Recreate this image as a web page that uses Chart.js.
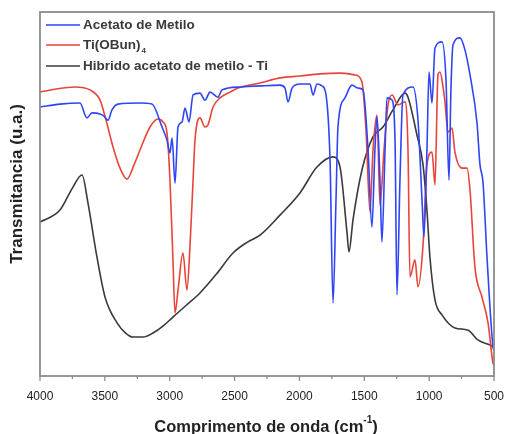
<!DOCTYPE html>
<html>
<head>
<meta charset="utf-8">
<script src="https://cdn.jsdelivr.net/npm/chart.js@4.4.1/dist/chart.umd.min.js"></script>
<style>
  html, body { margin: 0; padding: 0; background: #fff; }
  #wrap { width: 505px; height: 434px; }
</style>
</head>
<body>
<div id="wrap"><canvas id="ftirChart"></canvas></div>
<script>
// ===== datos (número de onda en cm-1, transmitancia u.a.) =====
const acetatoOnda = [4000, 3846, 3692, 3638, 3599, 3537, 3507, 3476, 3445, 3399, 3229, 3137, 3059, 3021, 2998, 2982,
    2959, 2936, 2905, 2882, 2851, 2820, 2767, 2728, 2689, 2628, 2597, 2458, 2304, 2150, 2111, 2088, 2057, 1996,
    1919, 1895, 1865, 1826, 1795, 1764, 1741, 1718, 1703, 1649, 1595, 1549, 1510, 1471, 1441, 1418, 1402, 1379,
    1364, 1340, 1325, 1286, 1263, 1248, 1225, 1202, 1124, 1086, 1055, 1040, 1017, 1001, 978, 955, 901, 870, 847,
    832, 816, 762, 724, 685, 631, 608, 585, 554, 508, 500];
const acetatoT = [73.9, 74.7, 75.0, 70.9, 72.3, 72.0, 71.4, 70.3, 73.1, 74.7, 75.0, 74.7, 68.4, 64.8, 61.3, 65.4,
    53.0, 68.4, 69.8, 73.6, 69.8, 77.2, 77.7, 75.8, 78.0, 76.6, 78.6, 79.4, 79.7, 79.9, 79.1, 75.3, 79.1, 80.2,
    80.2, 77.2, 80.2, 79.7, 77.2, 59.3, 20.1, 48.4, 68.4, 76.4, 79.9, 79.1, 78.6, 62.1, 40.9, 62.1, 71.2, 53.8,
    36.8, 62.1, 76.4, 75.8, 64.8, 22.3, 53.8, 77.2, 79.4, 70.3, 48.4, 38.2, 62.1, 83.5, 75.0, 90.1, 91.8, 81.3, 53.8,
    78.6, 91.0, 92.9, 89.6, 82.7, 69.5, 58.0, 53.3, 32.7, 8.0, 7.1];

const titanioOnda = [4000, 3884, 3730, 3615, 3537, 3491, 3437, 3383, 3329, 3275, 3229, 3152, 3090, 3052, 3021, 2998,
    2975, 2959, 2936, 2898, 2867, 2844, 2820, 2805, 2767, 2728, 2705, 2666, 2612, 2535, 2474, 2304, 2150, 1996,
    1842, 1687, 1572, 1518, 1487, 1456, 1433, 1402, 1379, 1348, 1317, 1286, 1240, 1186, 1163, 1148, 1109, 1086,
    1047, 1017, 978, 955, 932, 916, 893, 878, 855, 824, 801, 747, 708, 685, 647, 593, 546, 508, 500];
const titanioT = [78.0, 78.8, 79.4, 78.6, 75.8, 70.3, 62.9, 57.1, 54.1, 58.0, 62.1, 68.4, 70.6, 69.8, 66.8, 53.8,
    31.9, 17.3, 23.6, 33.8, 23.6, 35.4, 53.8, 64.8, 70.9, 68.4, 69.0, 73.9, 76.4, 78.0, 79.1, 80.5, 81.9, 82.4,
    83.0, 83.2, 82.7, 80.8, 67.6, 45.1, 62.1, 71.7, 47.0, 62.1, 74.5, 77.2, 74.5, 75.3, 62.1, 27.2, 31.9, 24.5,
    36.0, 58.0, 61.5, 52.5, 82.7, 83.5, 79.4, 75.3, 67.0, 68.1, 61.5, 57.1, 57.1, 51.1, 29.9, 21.7, 14.6, 3.6, 3.0];

const hibridoOnda = [4000, 3846, 3746, 3676, 3630, 3561, 3499, 3406, 3340, 3283, 3206, 3129, 3052, 2975, 2870, 2767,
    2640, 2512, 2400, 2304, 2150, 1996, 1865, 1741, 1687, 1633, 1618, 1587, 1518, 1433, 1356, 1279, 1186, 1163,
    1094, 1047, 1017, 994, 955, 901, 801, 700, 624, 531, 500];
const hibridoT = [42.3, 45.6, 51.9, 55.2, 47.5, 32.7, 21.7, 14.6, 11.8, 10.7, 10.7, 11.8, 13.7, 16.2, 19.5, 22.8,
    28.0, 33.8, 36.8, 38.7, 44.2, 50.3, 57.4, 60.2, 57.4, 39.3, 34.1, 42.9, 56.6, 65.7, 68.4, 73.1, 77.7, 76.6,
    66.2, 58.0, 45.6, 32.7, 20.9, 16.8, 13.2, 12.6, 9.9, 8.5, 8.0];

const ticksOnda = [4000, 3500, 3000, 2500, 2000, 1500, 1000, 500];

const etiquetas = ['Acetato de Metilo', 'Ti(OBun)', 'Hibrido acetato de metilo - Ti'];
const colores = ['#2f45f5', '#e8453a', '#3a3a3a'];
const fuente = '"Liberation Sans", Arial, sans-serif';

function puntos(onda, valores) {
    return onda.map((x, i) => ({ x: x, y: valores[i] }));
}

// marco, marcas del eje, títulos y leyenda dibujados a mano
const marcoPlugin = {
    id: 'marco',
    afterDatasetsDraw(chart) {
        const ctx = chart.ctx;
        const area = chart.chartArea;
        const xs = chart.scales.x;
        ctx.save();
        ctx.strokeStyle = '#8c8c8c';
        ctx.lineWidth = 1.8;
        ctx.strokeRect(area.left, area.top, area.right - area.left, area.bottom - area.top);

        ctx.lineWidth = 1.3;
        for (let v = 500; v <= 4000; v += 250) {
            const px = xs.getPixelForValue(v);
            const largo = (v % 500 === 0) ? 5 : 3;
            ctx.beginPath();
            ctx.moveTo(px, area.bottom);
            ctx.lineTo(px, area.bottom + largo);
            ctx.stroke();
        }

        // leyenda
        const filas = [25, 45, 66];
        ctx.textBaseline = 'middle';
        ctx.textAlign = 'left';
        filas.forEach((y, i) => {
            ctx.strokeStyle = colores[i];
            ctx.lineWidth = 1.6;
            ctx.beginPath();
            ctx.moveTo(46, y);
            ctx.lineTo(80, y);
            ctx.stroke();
            ctx.fillStyle = '#3a3a3a';
            ctx.font = 'bold 13.5px ' + fuente;
            ctx.fillText(etiquetas[i], 83, y);
            if (i === 1) {
                const w = ctx.measureText(etiquetas[i]).width;
                ctx.font = 'bold 8px ' + fuente;
                ctx.fillText('4', 83 + w + 1, y + 6);
            }
        });

        // título eje x con superíndice
        ctx.fillStyle = '#222';
        ctx.font = 'bold 16.5px ' + fuente;
        const parte1 = 'Comprimento de onda (cm';
        const sup = '-1';
        const parte3 = ')';
        const w1 = ctx.measureText(parte1).width;
        const w3 = ctx.measureText(parte3).width;
        ctx.font = 'bold 10px ' + fuente;
        const w2 = ctx.measureText(sup).width;
        const total = w1 + w2 + w3;
        let x0 = 266 - total / 2;
        ctx.font = 'bold 16.5px ' + fuente;
        ctx.fillText(parte1, x0, 427);
        ctx.font = 'bold 10px ' + fuente;
        ctx.fillText(sup, x0 + w1, 420);
        ctx.font = 'bold 16.5px ' + fuente;
        ctx.fillText(parte3, x0 + w1 + w2, 427);

        // título eje y
        ctx.translate(17, 184);
        ctx.rotate(-Math.PI / 2);
        ctx.textAlign = 'center';
        ctx.font = 'bold 17px ' + fuente;
        ctx.fillText('Transmitancia (u.a.)', 0, 0);
        ctx.restore();
    }
};

const ctx = document.getElementById('ftirChart').getContext('2d');
const ftirChart = new Chart(ctx, {
    type: 'line',
    data: {
        datasets: [
            { label: etiquetas[0], data: puntos(acetatoOnda, acetatoT), borderColor: colores[0] },
            { label: etiquetas[1], data: puntos(titanioOnda, titanioT), borderColor: colores[1] },
            { label: etiquetas[2], data: puntos(hibridoOnda, hibridoT), borderColor: colores[2] }
        ]
    },
    options: {
        responsive: true,
        maintainAspectRatio: false,
        animation: false,
        parsing: false,
        layout: { padding: { top: 12, right: 11, bottom: 0, left: 0 } },
        elements: {
            line: { borderWidth: 1.6, tension: 0.35, cubicInterpolationMode: 'monotone', fill: false },
            point: { radius: 0 }
        },
        plugins: {
            legend: { display: false },
            tooltip: { enabled: false }
        },
        scales: {
            x: {
                type: 'linear',
                reverse: true,
                min: 500,
                max: 4000,
                afterBuildTicks: scale => { scale.ticks = ticksOnda.map(v => ({ value: v })); },
                afterFit: scale => {
                    scale.height = 58;
                    scale.paddingLeft = 0;
                    scale.paddingRight = 0;
                },
                grid: { display: false },
                border: { display: false },
                ticks: {
                    padding: 5,
                    color: '#222',
                    font: { family: fuente, size: 12 },
                    maxRotation: 0,
                    callback: v => String(v)
                }
            },
            y: {
                min: 0,
                max: 100,
                afterFit: scale => { scale.width = 40; },
                grid: { display: false },
                border: { display: false },
                ticks: { display: false }
            }
        }
    },
    plugins: [marcoPlugin]
});
</script>
</body>
</html>
